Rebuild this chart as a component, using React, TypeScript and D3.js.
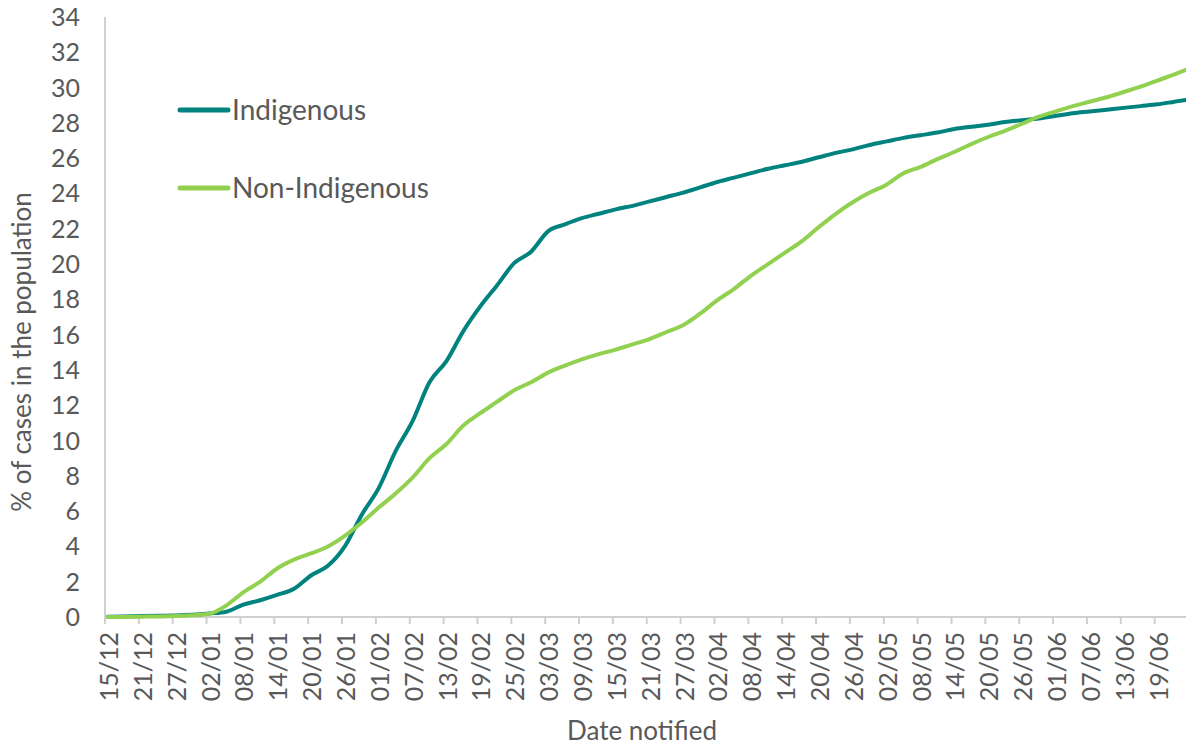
import React from 'react';
import * as d3 from 'd3';

// Day offsets from 15/12 (daily categories, read every 3 days)
const sampleDays = [
  0, 3, 6, 9, 12, 15, 18, 21, 24, 27, 30, 33, 36, 39, 42, 45, 48, 51, 54, 57,
  60, 63, 66, 69, 72, 75, 78, 81, 84, 87, 90, 93, 96, 99, 102, 105, 108, 111,
  114, 117, 120, 123, 126, 129, 132, 135, 138, 141, 144, 147, 150, 153, 156,
  159, 162, 165, 168, 171, 174, 177, 180, 183, 186, 189, 191,
];

const indigenous = [
  0.02, 0.03, 0.05, 0.07, 0.09, 0.13, 0.2, 0.3, 0.7, 0.95, 1.25, 1.6, 2.35, 2.9,
  4.0, 5.8, 7.3, 9.4, 11.1, 13.3, 14.5, 16.2, 17.6, 18.8, 20.05, 20.7, 21.85,
  22.25, 22.6, 22.85, 23.1, 23.3, 23.55, 23.8, 24.05, 24.35, 24.65, 24.9, 25.15,
  25.4, 25.6, 25.8, 26.05, 26.3, 26.5, 26.75, 26.95, 27.15, 27.3, 27.45, 27.65,
  27.78, 27.9, 28.05, 28.15, 28.25, 28.4, 28.55, 28.65, 28.75, 28.85, 28.95,
  29.05, 29.2, 29.3,
];

const nonIndigenous = [
  0.0, 0.0, 0.02, 0.03, 0.05, 0.1, 0.18, 0.65, 1.4, 2.0, 2.75, 3.25, 3.6, 4.0,
  4.6, 5.35, 6.2, 7.0, 7.9, 9.0, 9.8, 10.85, 11.55, 12.2, 12.85, 13.3, 13.85,
  14.25, 14.6, 14.9, 15.15, 15.45, 15.75, 16.15, 16.55, 17.2, 17.95, 18.6, 19.35,
  20.0, 20.65, 21.3, 22.1, 22.85, 23.5, 24.05, 24.5, 25.15, 25.5, 25.95, 26.35,
  26.8, 27.2, 27.55, 27.95, 28.35, 28.65, 28.95, 29.2, 29.45, 29.75, 30.05, 30.4,
  30.75, 31.0,
];

const tickLabels = [
  '15/12', '21/12', '27/12', '02/01', '08/01', '14/01', '20/01', '26/01',
  '01/02', '07/02', '13/02', '19/02', '25/02', '03/03', '09/03', '15/03',
  '21/03', '27/03', '02/04', '08/04', '14/04', '20/04', '26/04', '02/05',
  '08/05', '14/05', '20/05', '26/05', '01/06', '07/06', '13/06', '19/06',
];
const tickStepDays = 6;
const totalDays = 192;

const yTicks = d3.range(0, 35, 2);

const seriesNames = ['Indigenous', 'Non-Indigenous'];
const colors = ['#00827E', '#92D050'];

export default function App() {
  const W = 1186;
  const H = 746;
  const left = 105;
  const right = 1188.5;
  const top = 17;
  const bottom = 617;

  const x = d3.scaleLinear().domain([0, totalDays]).range([left, right]);
  const y = d3.scaleLinear().domain([0, 34]).range([bottom, top]);

  const line = d3
    .line<[number, number]>()
    .x((d) => x(d[0] + 0.5))
    .y((d) => y(d[1]))
    .curve(d3.curveMonotoneX);

  const series = [indigenous, nonIndigenous].map((vals) =>
    sampleDays.map((d, i) => [d, vals[i]] as [number, number])
  );

  const textColor = '#595959';
  const font = 'Lato, "Open Sans", sans-serif';

  return (
    <svg
      width={W}
      height={H}
      style={{ position: 'absolute', left: 0, top: 0, background: '#fff' }}
      fontFamily={font}
    >
      {/* axes */}
      <line x1={left} x2={left} y1={top} y2={bottom} stroke="#D0D0D0" strokeWidth={2} />
      <line x1={left} x2={W} y1={bottom} y2={bottom} stroke="#D0D0D0" strokeWidth={2} />

      {/* y tick labels */}
      {yTicks.map((t) => (
        <text
          key={t}
          x={80}
          y={y(t)}
          dy="0.36em"
          textAnchor="end"
          fontSize={25}
          fill={textColor}
        >
          {t}
        </text>
      ))}

      {/* x ticks and labels */}
      {tickLabels.map((lab, i) => {
        const tx = x(i * tickStepDays);
        return (
          <g key={lab}>
            <line x1={tx} x2={tx} y1={bottom} y2={bottom + 7} stroke="#D0D0D0" strokeWidth={2} />
            <text
              transform={`translate(${tx + 4},${bottom + 15}) rotate(-90)`}
              dy="0.36em"
              textAnchor="end"
              fontSize={25}
              fill={textColor}
            >
              {lab}
            </text>
          </g>
        );
      })}

      {/* axis titles */}
      <text
        transform={`translate(22,352) rotate(-90)`}
        dy="0.36em"
        textAnchor="middle"
        fontSize={26}
        fill={textColor}
      >
        % of cases in the population
      </text>
      <text x={642} y={740} textAnchor="middle" fontSize={26} fill={textColor}>
        Date notified
      </text>

      {/* series lines */}
      {series.map((s, i) => (
        <path
          key={seriesNames[i]}
          d={line(s) || ''}
          fill="none"
          stroke={colors[i]}
          strokeWidth={4}
          strokeLinejoin="round"
          strokeLinecap="round"
        />
      ))}

      {/* legend */}
      {seriesNames.map((name, i) => {
        const ly = i === 0 ? 110 : 188;
        return (
          <g key={name}>
            <line x1={180} x2={228} y1={ly} y2={ly} stroke={colors[i]} strokeWidth={5} strokeLinecap="round" />
            <text x={232} y={ly} dy="0.36em" fontSize={28} fill={textColor}>
              {name}
            </text>
          </g>
        );
      })}
    </svg>
  );
}
